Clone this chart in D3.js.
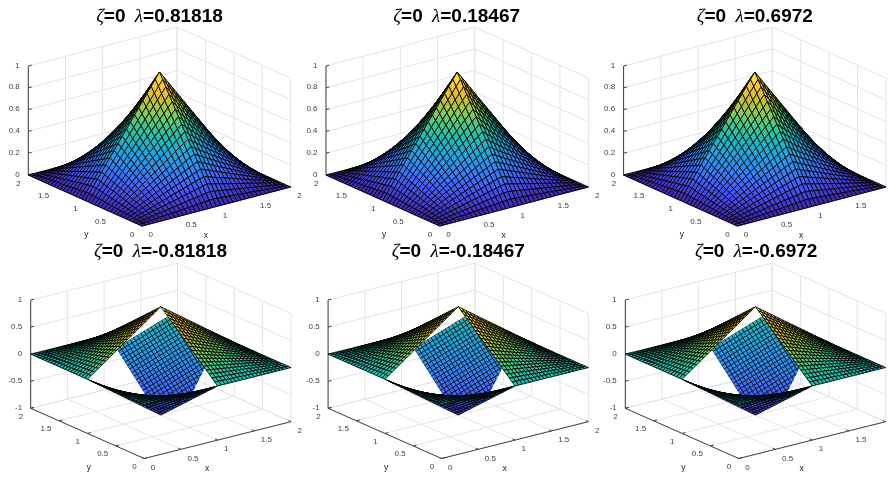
<!DOCTYPE html>
<html lang="en">
<head>
  <meta charset="UTF-8" />
  <title>Surface grid</title>
  <script src="https://d3js.org/d3.v7.min.js"></script>
  <style>
    body { margin: 0; background: #fff; }
    svg { display: block; filter: blur(0.3px); }
    text { font-family: 'Liberation Sans', Arial, sans-serif; }
    .tick-label { font-size: 8px; fill: #404040; }
    .axis-label { font-size: 8.5px; fill: #262626; }
    .title { font-size: 19px; font-weight: bold; fill: #000; text-anchor: middle; }
    .greek { font-family: 'Liberation Serif', serif; font-style: italic; font-weight: normal; }
    .grid { stroke: #e4e4e4; stroke-width: 1; fill: none; }
    .axis { stroke: #404040; stroke-width: 1; fill: none; }
    .cell { stroke: #000; stroke-width: 0.85; stroke-linejoin: round; }
    .back .cell { stroke-width: 0.7; }
  </style>
</head>
<body>
  <div id="chart"></div>

  <script>
    // values
    const lambdas = ["0.81818", "0.18467", "0.6972", "-0.81818", "-0.18467", "-0.6972"];

    // upper plots have a slightly coarser mesh than the lower ones
    const gridUpper = [0, 0.056, 0.111, 0.167, 0.222, 0.278, 0.333, 0.389, 0.444, 0.5, 0.556, 0.611, 0.667, 0.722, 0.778, 0.833, 0.889, 0.944, 1,
                       1.056, 1.111, 1.167, 1.222, 1.278, 1.333, 1.389, 1.444, 1.5, 1.556, 1.611, 1.667, 1.722, 1.778, 1.833, 1.889, 1.944, 2];
    const gridLower = [0, 0.05, 0.1, 0.15, 0.2, 0.25, 0.3, 0.35, 0.4, 0.45, 0.5, 0.55, 0.6, 0.65, 0.7, 0.75, 0.8, 0.85, 0.9, 0.95, 1,
                       1.05, 1.1, 1.15, 1.2, 1.25, 1.3, 1.35, 1.4, 1.45, 1.5, 1.55, 1.6, 1.65, 1.7, 1.75, 1.8, 1.85, 1.9, 1.95, 2];
    // cross-sections of the surface through the peak, z = profile(x) * profile(y)
    const profileUpper = [0, 0.056, 0.111, 0.167, 0.222, 0.278, 0.333, 0.389, 0.444, 0.5, 0.556, 0.611, 0.667, 0.722, 0.778, 0.833, 0.889, 0.944, 1,
                          0.944, 0.889, 0.833, 0.778, 0.722, 0.667, 0.611, 0.556, 0.5, 0.444, 0.389, 0.333, 0.278, 0.222, 0.167, 0.111, 0.056, 0];
    const profileLower = [0, 0.05, 0.1, 0.15, 0.2, 0.25, 0.3, 0.35, 0.4, 0.45, 0.5, 0.55, 0.6, 0.65, 0.7, 0.75, 0.8, 0.85, 0.9, 0.95, 1,
                          0.95, 0.9, 0.85, 0.8, 0.75, 0.7, 0.65, 0.6, 0.55, 0.5, 0.45, 0.4, 0.35, 0.3, 0.25, 0.2, 0.15, 0.1, 0.05, 0];
    // flat sheet seen in the back quarter of the lower plots, corners as [u0v0, u1v0, u0v1, u1v1]
    const backCornerX = [1.129, 2.205, 0.745, 1.821];
    const backCornerY = [1.957, 2.114, 0.674, 0.831];
    const backCornerZ = [-0.25, 0.102, -0.832, -0.48];
    const backOutlineU = [0, 0.775, 0.975, 0.445, 0];
    const backOutlineV = [0, 0, 0.645, 0.96, 0.71];

    const xyTicks = [0, 0.5, 1, 1.5, 2];
    const xyTickLabels = ["0", "0.5", "1", "1.5", "2"];
    const zTicksUpper = [0, 0.2, 0.4, 0.6, 0.8, 1];
    const zTickLabelsUpper = ["0", "0.2", "0.4", "0.6", "0.8", "1"];
    const zTicksLower = [-1, -0.5, 0, 0.5, 1];
    const zTickLabelsLower = ["-1", "-0.5", "0", "0.5", "1"];

    const parula = ["#3e26a8", "#4747e5", "#4268fe", "#2d8cf3", "#1ca9e2", "#18bfb6", "#3fca8d", "#8fcc50", "#d2bf27", "#fec439", "#f9fb15"];

    const width = 889, height = 477;
    const svg = d3.select("#chart").append("svg").attr("width", width).attr("height", height);

    // pixel layout of the six plots, front floor corner is x=0 y=0
    const upperLayout = { frontY: 226, xDx: 148.7, xDy: -39, yDx: -113.7, yDy: -51, zPx: 109, titleY: 21.5 };
    const lowerLayout = { frontY: 458.5, xDx: 146.8, xDy: -36.8, yDx: -113.5, yDy: -50.2, zPx: 108.3, titleY: 257 };
    const frontXs = [142, 439.7, 737.3, 144.2, 441.6, 738.8];
    const titleXs = [159.5, 456.7, 754.8, 160.5, 458.3, 756.2];

    function makeProjection(frontX, layout, zDomain) {
      const xh = d3.scaleLinear([0, 2], [0, layout.xDx]);
      const xv = d3.scaleLinear([0, 2], [0, layout.xDy]);
      const yh = d3.scaleLinear([0, 2], [0, layout.yDx]);
      const yv = d3.scaleLinear([0, 2], [0, layout.yDy]);
      const zs = d3.scaleLinear(zDomain, [0, -layout.zPx]);
      return (x, y, z) => [frontX + xh(x) + yh(y), layout.frontY + xv(x) + yv(y) + zs(z)];
    }

    function drawCells(g, cells, project, color) {
      g.selectAll("path.cell").data(cells).enter().append("path")
        .attr("class", "cell")
        .attr("d", c => "M" + c.pts.map(p => project(p[0], p[1], p[2]).map(v => v.toFixed(2)).join(",")).join("L") + "Z")
        .attr("fill", c => color(d3.mean(c.pts, p => p[2])));
    }

    function surfaceCells(grid, profile, lower, zDomain) {
      const cells = [];
      const mid = (grid.length - 1) / 2;
      for (let i = 0; i < grid.length - 1; i++) {
        for (let j = 0; j < grid.length - 1; j++) {
          let sign = 1;
          if (lower) {
            if (i >= mid && j >= mid) continue;
            if (i < mid && j < mid) sign = -1;
          }
          const corner = (a, b) => [grid[a], grid[b], sign * profile[a] * profile[b]];
          const pts = [corner(i, j), corner(i + 1, j), corner(i + 1, j + 1), corner(i, j + 1)];
          const cx = d3.mean(pts, p => p[0]), cy = d3.mean(pts, p => p[1]), cz = d3.mean(pts, p => p[2]);
          const zn = (cz - zDomain[0]) / (zDomain[1] - zDomain[0]);
          cells.push({ pts, far: 0.527 * cx / 2 + 0.687 * cy / 2 - 0.33 * zn });
        }
      }
      return cells.sort((a, b) => b.far - a.far);
    }

    function backPoint(u, v) {
      const mix = c => c[0] * (1 - u) * (1 - v) + c[1] * u * (1 - v) + c[2] * (1 - u) * v + c[3] * u * v;
      return [mix(backCornerX), mix(backCornerY), mix(backCornerZ)];
    }

    function backCells() {
      const n = 20, cells = [];
      for (let i = 0; i < n; i++) {
        for (let j = 0; j < n; j++) {
          cells.push({ pts: [backPoint(i / n, j / n), backPoint((i + 1) / n, j / n),
                             backPoint((i + 1) / n, (j + 1) / n), backPoint(i / n, (j + 1) / n)] });
        }
      }
      return cells;
    }

    function drawAxes(g, project, zTicks, zLabels) {
      const zMin = zTicks[0], zMax = zTicks[zTicks.length - 1];
      const seg = (a, b, cls) => {
        const p = project(...a), q = project(...b);
        g.append("line").attr("class", cls).attr("x1", p[0]).attr("y1", p[1]).attr("x2", q[0]).attr("y2", q[1]);
      };
      xyTicks.forEach(t => {
        seg([t, 0, zMin], [t, 2, zMin], "grid");
        seg([0, t, zMin], [2, t, zMin], "grid");
        seg([t, 2, zMin], [t, 2, zMax], "grid");
        seg([2, t, zMin], [2, t, zMax], "grid");
      });
      zTicks.forEach(t => {
        seg([0, 2, t], [2, 2, t], "grid");
        seg([2, 2, t], [2, 0, t], "grid");
      });
      seg([0, 0, zMin], [2, 0, zMin], "axis");
      seg([0, 0, zMin], [0, 2, zMin], "axis");
      seg([0, 2, zMin], [0, 2, zMax], "axis");

      xyTicks.forEach((t, i) => {
        seg([t, 0, zMin], [t, 0.045, zMin], "axis");
        seg([0, t, zMin], [0.045, t, zMin], "axis");
        let p = project(t, 0, zMin);
        // the last x label of the right plots falls off the page in the original too
        if (p[0] + 8 < width) {
          g.append("text").attr("class", "tick-label").attr("x", p[0] + 6.5).attr("y", p[1] + 11.2).text(xyTickLabels[i]);
        }
        p = project(0, t, zMin);
        g.append("text").attr("class", "tick-label").attr("text-anchor", "end").attr("x", p[0] - 7.5).attr("y", p[1] + 10.5).text(xyTickLabels[i]);
      });
      zTicks.forEach((t, i) => {
        seg([0, 2, t], [0.045, 2, t], "axis");
        const p = project(0, 2, t);
        g.append("text").attr("class", "tick-label").attr("text-anchor", "end").attr("x", p[0] - 8.5).attr("y", p[1] + 1.5).text(zLabels[i]);
      });

      let p = project(1, 0, zMin);
      g.append("text").attr("class", "axis-label").attr("text-anchor", "middle").attr("x", p[0] - 10.5).attr("y", p[1] + 31).text("x");
      p = project(0, 1, zMin);
      g.append("text").attr("class", "axis-label").attr("text-anchor", "middle").attr("x", p[0] + 1.3).attr("y", p[1] + 36.5).text("y");
    }

    lambdas.forEach((lambda, k) => {
      const lower = k >= 3;
      const layout = lower ? lowerLayout : upperLayout;
      const zDomain = lower ? [-1, 1] : [0, 1];
      const project = makeProjection(frontXs[k], layout, zDomain);
      const color = d3.scaleLinear().domain(d3.range(parula.length).map(i => zDomain[0] + i / (parula.length - 1) * (zDomain[1] - zDomain[0]))).range(parula);
      const g = svg.append("g");

      drawAxes(g, project, lower ? zTicksLower : zTicksUpper, lower ? zTickLabelsLower : zTickLabelsUpper);

      if (lower) {
        const clipId = "back-clip-" + k;
        const outline = backOutlineU.map((u, i) => project(...backPoint(u, backOutlineV[i])));
        g.append("clipPath").attr("id", clipId).append("polygon").attr("points", outline.map(p => p.join(",")).join(" "));
        drawCells(g.append("g").attr("class", "back").attr("clip-path", `url(#${clipId})`), backCells(), project, color);
      }
      const cells = lower ? surfaceCells(gridLower, profileLower, true, zDomain) : surfaceCells(gridUpper, profileUpper, false, zDomain);
      drawCells(g.append("g"), cells, project, color);

      const title = g.append("text").attr("class", "title").attr("x", titleXs[k]).attr("y", layout.titleY);
      title.append("tspan").attr("class", "greek").text("ζ");
      title.append("tspan").text("=0 ");
      title.append("tspan").attr("class", "greek").attr("dx", 4).text("λ");
      title.append("tspan").text("=" + lambda);
    });
  </script>
</body>
</html>
